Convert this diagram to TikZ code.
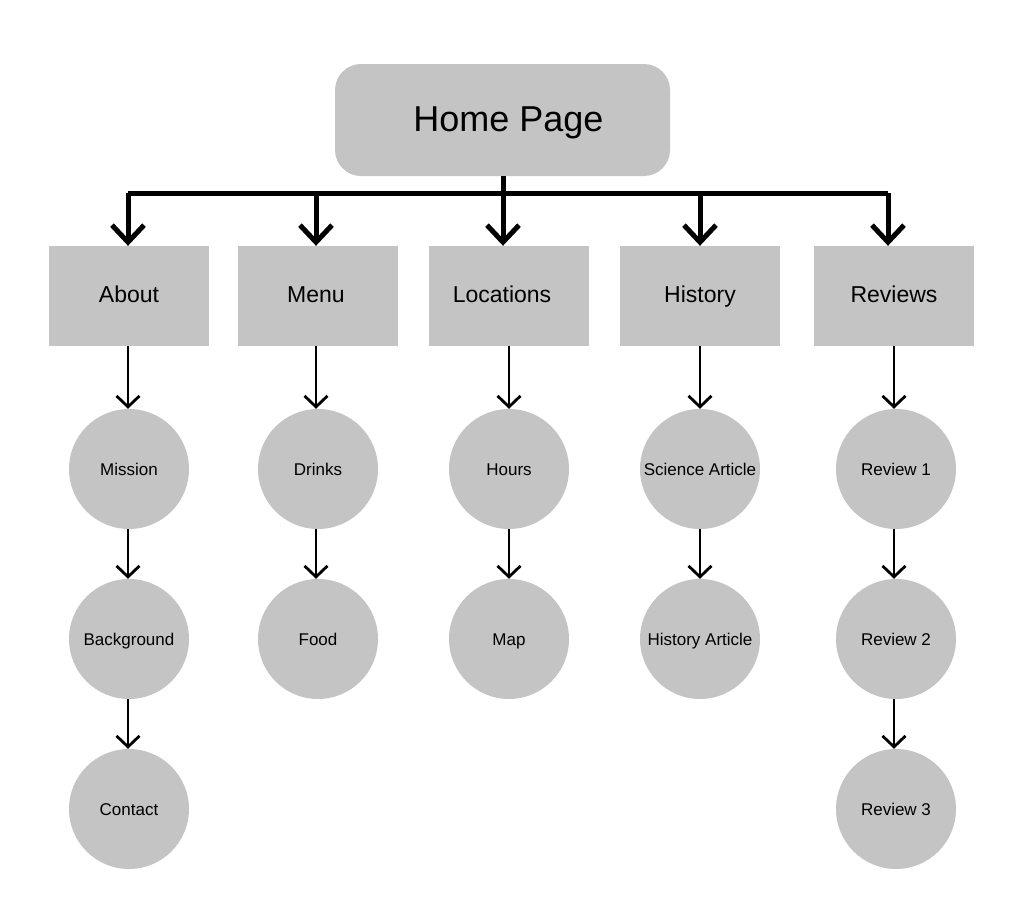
\documentclass[tikz,border=0pt]{standalone}
\usepackage{fontspec}
\setmainfont{Liberation Sans}
\usetikzlibrary{arrows.meta}
\definecolor{boxgrey}{HTML}{C4C4C4}
\begin{document}
\begin{tikzpicture}[x=1pt,y=-1pt,
  homebox/.style={fill=boxgrey,rounded corners=26pt,minimum width=335pt,minimum height=112pt,inner sep=0pt,text height=27pt,text depth=4pt,font=\fontsize{36}{40}\selectfont},
  secbox/.style={fill=boxgrey,minimum width=160pt,minimum height=100pt,inner sep=0pt,text height=17pt,text depth=5pt,font=\fontsize{23}{26}\selectfont},
  leaf/.style={circle,fill=boxgrey,minimum size=120pt,inner sep=0pt,text height=16pt,text depth=3.5pt,font=\fontsize{17}{20}\selectfont},
  bigarrow/.style={line width=5pt,-{Straight Barb[length=17pt,width=32pt,line width=5pt]}},
  thinarrow/.style={line width=2.8pt,-{Straight Barb[length=11pt,width=23pt,line width=2.8pt]}}
]
\useasboundingbox (0,0) rectangle (1021,916);
\node[homebox] (home) at (502.5,120) {\hspace*{12pt}Home Page};
\node[secbox] (about) at (129,296) {About};
\node[secbox] (menu) at (318,296) {\hspace*{-4pt}Menu};
\node[secbox] (loc) at (509,296) {Locations\hspace*{14pt}};
\node[secbox] (hist) at (700,296) {History};
\node[secbox] (rev) at (894,296) {Reviews};

\node[leaf] (mission) at (129,469) {Mission};
\node[leaf] (backg) at (129,639) {Background};
\node[leaf] (contact) at (129,809) {Contact};
\node[leaf] (drinks) at (318,469) {Drinks};
\node[leaf] (food) at (318,639) {Food};
\node[leaf] (hours) at (509,469) {Hours};
\node[leaf] (map) at (509,639) {Map};
\node[leaf] (sci) at (700,469) {Science Article};
\node[leaf] (harticle) at (700,639) {History Article};
\node[leaf] (r1) at (896,469) {Review 1};
\node[leaf] (r2) at (896,639) {Review 2};
\node[leaf] (r3) at (896,809) {Review 3};

\coordinate (bus) at (503,193);
\draw[line width=5pt] (home.south -| bus) -- (bus);
\draw[line width=5pt] (128,193) -- (888,193);
\draw[bigarrow] (128,193) -- (about.north -| 128,0);
\draw[bigarrow] (316,193) -- (menu.north -| 316,0);
\draw[bigarrow] (503,193) -- (loc.north -| 503,0);
\draw[bigarrow] (700,193) -- (hist.north -| 700,0);
\draw[bigarrow] (888,193) -- (rev.north -| 888,0);

\draw[thinarrow] (about.south -| 128,0) -- (mission.north -| 128,0);
\draw[thinarrow] (mission.south -| 128,0) -- (backg.north -| 128,0);
\draw[thinarrow] (backg.south -| 128,0) -- (contact.north -| 128,0);
\draw[thinarrow] (menu.south -| 316,0) -- (drinks.north -| 316,0);
\draw[thinarrow] (drinks.south -| 316,0) -- (food.north -| 316,0);
\draw[thinarrow] (loc.south -| 509,0) -- (hours.north);
\draw[thinarrow] (hours.south) -- (map.north);
\draw[thinarrow] (hist.south) -- (sci.north);
\draw[thinarrow] (sci.south) -- (harticle.north);
\draw[thinarrow] (rev.south -| 894,0) -- (r1.north -| 894,0);
\draw[thinarrow] (r1.south -| 894,0) -- (r2.north -| 894,0);
\draw[thinarrow] (r2.south -| 894,0) -- (r3.north -| 894,0);
\end{tikzpicture}
\end{document}
